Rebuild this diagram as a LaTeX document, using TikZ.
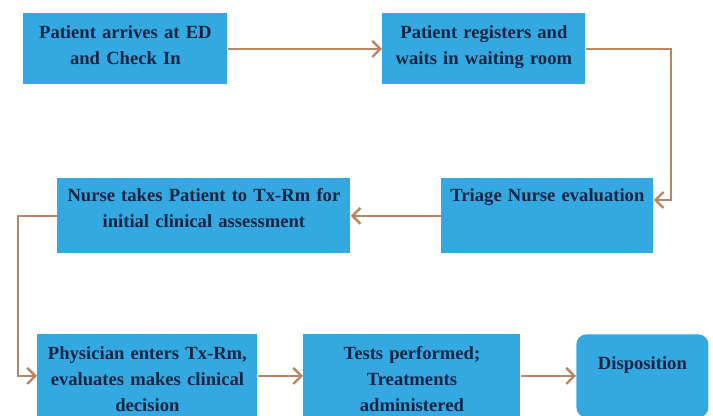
\documentclass[tikz,border=0pt]{standalone}
\usepackage{fontspec}
\setmainfont{Liberation Serif}
\usetikzlibrary{arrows.meta}
\definecolor{boxblue}{RGB}{52,168,224}
\definecolor{boxtext}{RGB}{12,36,68}
\definecolor{linkbrown}{RGB}{184,134,98}
\tikzset{
  flowbox/.style={fill=boxblue, draw=none, text=boxtext, anchor=north west, align=center, inner xsep=2pt, inner ysep=0pt, font=\bfseries\fontsize{9.3}{13}\selectfont},
  toprow/.style={flowbox, text height=12.7pt, text depth=22.8pt},
  midrow/.style={flowbox, text height=11.7pt, text depth=25.8pt},
  lowrow/.style={flowbox, text height=12.5pt, text depth=29pt},
  flowlink/.style={line width=1.2pt, draw=linkbrown, -{Straight Barb[length=4pt,width=8pt]}},
}
\begin{document}
\begin{tikzpicture}[x=0.5pt,y=-0.5pt]
\useasboundingbox (0,0) rectangle (713,416);
\node[toprow, text width=98pt] (arrive) at (23,13) {Patient arrives at ED\\and Check In};
\node[toprow, text width=97.5pt] (register) at (382,13) {Patient registers and\\waits in waiting room};
\node[midrow, text width=102pt] (triage) at (441,178) {Triage Nurse evaluation};
\node[midrow, text width=142.5pt] (nurse) at (57,178) {Nurse takes Patient to Tx-Rm for\\initial clinical assessment};
\node[lowrow, text width=106pt] (physician) at (37,334) {Physician enters Tx-Rm,\\evaluates makes clinical\\decision};
\node[lowrow, text width=104.5pt] (tests) at (303,334) {Tests performed;\\Treatments\\administered};
\node[flowbox, text width=62pt, text height=17.7pt, text depth=23.8pt, rounded corners=5pt] (dispo) at (576,334) {Disposition};
\coordinate (rbend) at (671,200);
\coordinate (lbend) at (18,0);
\draw[flowlink] (arrive.east) -- (register.west);
\draw[flowlink] (register.east) -| (rbend) -- (rbend -| triage.east);
\draw[flowlink] (triage.west) -- (nurse.east);
\draw[flowlink] (nurse.west) -- (nurse.west -| lbend) |- (physician.west);
\draw[flowlink] (physician.east) -- (tests.west);
\draw[flowlink] (tests.east) -- (dispo.west);
\end{tikzpicture}
\end{document}
